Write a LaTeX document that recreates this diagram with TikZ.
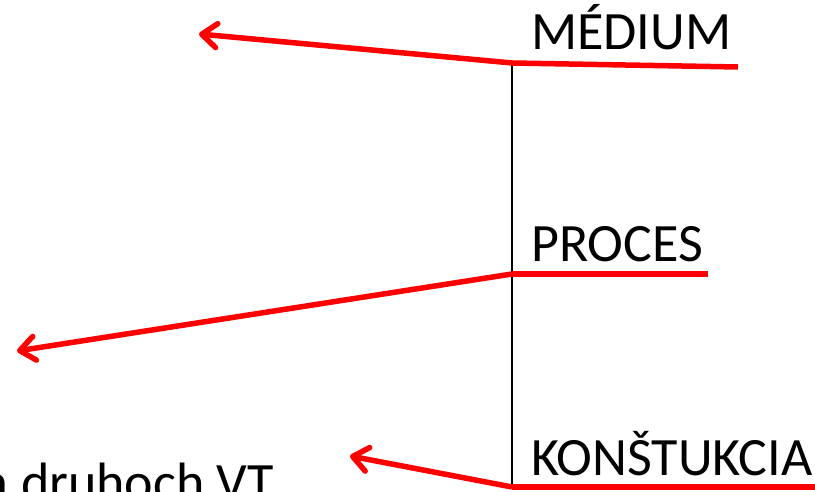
\documentclass[tikz,border=0pt]{standalone}
\usepackage{fontspec}
\setmainfont{Carlito}
\usetikzlibrary{arrows.meta}
\begin{document}
\begin{tikzpicture}[x=1pt,y=1pt,
  lbl/.style={font=\fontsize{54}{60}\selectfont, inner sep=0pt, text=black},
  redline/.style={draw=red, line width=5.5pt},
  redarrow/.style={draw=red, line width=5.5pt, -{Straight Barb[length=15pt,width=24pt,line width=5.5pt,line cap=round,round]}},
  axis/.style={draw=black, line width=2.6pt}]
\useasboundingbox (0,0) rectangle (815,492);
\clip (0,0) rectangle (815,492);
% junctions
\coordinate (jm) at (512,429);
\coordinate (jp) at (512,218);
\coordinate (jk) at (512,5);
\coordinate (em) at (738,425);
\coordinate (ep) at (708,218);
\coordinate (ek) at (815,5);
\coordinate (tm) at (199,458);
\coordinate (tp) at (17,141);
\coordinate (tk) at (350,36);
% texts
\node[lbl, anchor=base west] (medium) at (531,442) {MÉDIUM};
\node[lbl, anchor=base west] (proces) at (531,230) {PROCES};
\node[lbl, anchor=base west] (konst) at (531,16) {KONŠTUKCIA};
\node[lbl, anchor=base east] (druh) at (274,-9) {a druhoch VT};
% lines
\draw[axis] (jm) -- (jk);
\draw[redline] (jm) -- (em);
\draw[redline] (jp) -- (ep);
\draw[redline] (jk) -- (ek);
\draw[redarrow] (jm) -- (tm);
\draw[redarrow] (jp) -- (tp);
\draw[redarrow] (jk) -- (tk);
\end{tikzpicture}
\end{document}
